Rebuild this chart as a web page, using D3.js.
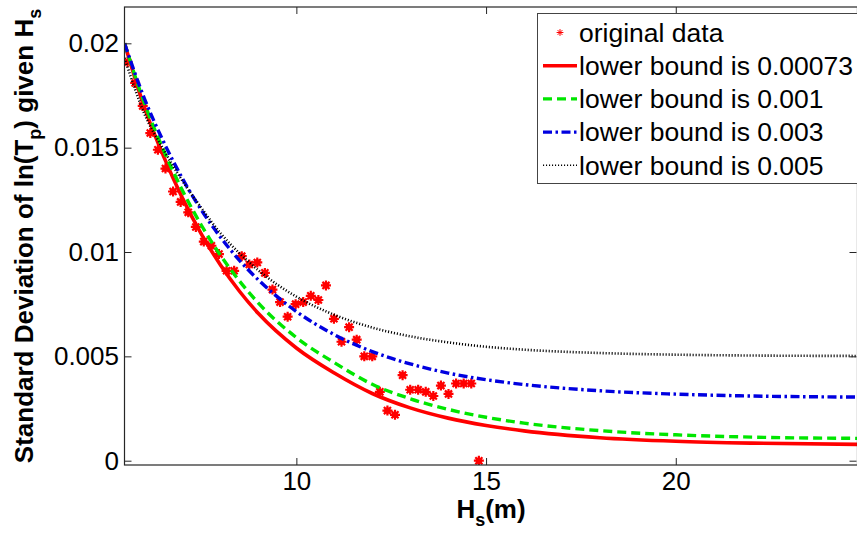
<!DOCTYPE html>
<html><head><meta charset="utf-8">
<script src="https://cdn.jsdelivr.net/npm/d3@7"></script>
<style>
body{margin:0;background:#fff}
svg{display:block}
text{font-family:"Liberation Sans",Arial,Helvetica,sans-serif;fill:#000}
</style>
</head><body>
<svg id="chart" width="857" height="533"></svg>
<script>
// ---- data ----
const obsHs = [5.55,5.75,5.95,6.15,6.35,6.55,6.75,6.95,7.15,7.35,
  7.56,7.76,7.96,8.16,8.36,8.56,8.76,8.97,9.17,9.37,
  9.57,9.77,9.98,10.18,10.38,10.58,10.78,10.99,11.19,11.39,
  11.59,11.79,12.00,12.20,12.40,12.60,12.80,13.00,13.21,13.41,
  13.61,13.81,14.01,14.21,14.41,14.61,14.81];
const obsSd = [0.0191,0.0181,0.0170,0.0157,0.0149,0.0140,0.0129,0.0124,0.0119,0.0112,
  0.0105,0.0103,0.0099,0.0091,0.0091,0.0098,0.0094,0.0095,0.0090,0.0082,
  0.0076,0.0069,0.0075,0.0076,0.0079,0.0077,0.0084,0.0068,0.0057,0.0064,
  0.0058,0.0050,0.0050,0.0033,0.0024,0.0022,0.0041,0.0034,0.0034,0.0033,
  0.0031,0.0036,0.0032,0.0037,0.0037,0.0037,0.0000];

const fitHs = [5.47,6,6.5,7,7.5,8,8.5,9,10,11,12,13,14,15,16,18,20,22,24.8];
const fitLb00073 = [0.0200,0.0169,0.01458,0.01257,0.01085,0.00938,0.00812,0.00705,0.00540,0.0042,0.00322,0.00253,0.00204,0.00169,0.00143,0.0011,0.00093,0.00084,0.00078];
const fitLb001   = [0.0200,0.01711,0.01487,0.01294,0.01127,0.00984,0.00861,0.00755,0.00590,0.0047,0.00366,0.00297,0.00246,0.00208,0.0018,0.00144,0.00124,0.00113,0.00107];
const fitLb003   = [0.0200,0.01733,0.01528,0.01351,0.0120,0.01071,0.0096,0.00866,0.00715,0.00604,0.00523,0.00464,0.0042,0.00388,0.00365,0.00335,0.00319,0.0031,0.00305];
const fitLb005   = [0.0193,0.0166,0.0149,0.0134,0.0121,0.0109,0.00994,0.00912,0.00786,0.00699,0.00638,0.00596,0.00567,0.00546,0.00532,0.00516,0.00508,0.00504,0.00502];

const seriesNames = ["lower bound is 0.00073","lower bound is 0.001","lower bound is 0.003","lower bound is 0.005"];
const obsName = "original data";
const xTicks = [10,15,20];
const xTickLabels = ["10","15","20"];
const yTicks = [0,0.005,0.01,0.015,0.02];
const yTickLabels = ["0","0.005","0.01","0.015","0.02"];

// ---- styles ----
const styles = [
  {color:"#ff0000", width:3.6, dash:null},
  {color:"#00e600", width:3.4, dash:"9,5"},
  {color:"#0000e0", width:3.4, dash:"9,3.5,2.5,3.5"},
  {color:"#000000", width:2.6, dash:"1.1,1.9"}
];
const fits = [fitLb00073, fitLb001, fitLb003, fitLb005];

const svg = d3.select("#chart");
const L=124.5, R=857.5, T=7, B=465;
const x = d3.scaleLinear().domain([5.47,24.79]).range([L,R]);
const y = d3.scaleLinear().domain([-0.000206,0.02174]).range([B,T]);

svg.append("defs").append("clipPath").attr("id","clip")
  .append("rect").attr("x",L).attr("y",T).attr("width",R-L).attr("height",B-T);

const plot = svg.append("g").attr("clip-path","url(#clip)");

const line = d3.line().x(d=>x(d[0])).y(d=>y(d[1])).curve(d3.curveMonotoneX);

function star(g, cx, cy, r, w, fill){
  const a = r*0.7071;
  g.append("path")
   .attr("d",`M${cx-r},${cy}L${cx+r},${cy}M${cx},${cy-r}L${cx},${cy+r}M${cx-a},${cy-a}L${cx+a},${cy+a}M${cx-a},${cy+a}L${cx+a},${cy-a}`)
   .attr("stroke","#ff0000").attr("stroke-width",w).attr("fill","none");
  if(fill) g.append("circle").attr("cx",cx).attr("cy",cy).attr("r",fill).attr("fill","#ff0000");
}
const mk = plot.append("g");
obsHs.forEach((h,i)=>star(mk, x(h), y(obsSd[i]), 5, 2.2, 3.2));

fits.forEach((f,k)=>{
  const pts = fitHs.map((h,i)=>[h,f[i]]);
  plot.append("path").datum(pts).attr("d",line)
    .attr("fill","none").attr("stroke",styles[k].color)
    .attr("stroke-width",styles[k].width)
    .attr("stroke-dasharray",styles[k].dash);
});

// axes
const axCol = "#262626";
function styleAxis(g){
  g.select(".domain").remove();
  g.selectAll(".tick line").attr("stroke",axCol).attr("stroke-width",1);
  g.selectAll("text").attr("font-size",26).attr("font-family",'"Liberation Sans",Arial,sans-serif').attr("fill","#000");
}
svg.append("g").attr("transform",`translate(0,${B})`)
  .call(d3.axisBottom(x).tickValues(xTicks).tickFormat((d,i)=>xTickLabels[i]).tickSize(-7).tickPadding(7))
  .call(styleAxis);
svg.append("g").attr("transform",`translate(0,${T})`)
  .call(d3.axisTop(x).tickValues(xTicks).tickFormat("").tickSize(-7))
  .call(styleAxis);
svg.append("g").attr("transform",`translate(${L},0)`)
  .call(d3.axisLeft(y).tickValues(yTicks).tickFormat((d,i)=>yTickLabels[i]).tickSize(-7).tickPadding(5.5))
  .call(styleAxis);
svg.append("g").attr("transform",`translate(${R-1},0)`)
  .call(d3.axisRight(y).tickValues(yTicks).tickFormat("").tickSize(-7))
  .call(styleAxis);
svg.append("rect").attr("x",L).attr("y",T).attr("width",R-L).attr("height",B-T)
  .attr("fill","none").attr("stroke",axCol).attr("stroke-width",1.2);

// axis labels
const xl = svg.append("text").attr("x",(L+R)/2).attr("y",518)
  .attr("text-anchor","middle").attr("font-size",26).attr("font-weight","bold");
xl.append("tspan").text("H");
xl.append("tspan").attr("font-size",18).attr("dy",8).text("s");
xl.append("tspan").attr("dy",-8).text("(m)");

const yl = svg.append("text").attr("transform",`translate(33,${(T+B)/2}) rotate(-90)`)
  .attr("text-anchor","middle").attr("font-size",26).attr("font-weight","bold");
yl.append("tspan").text("Standard Deviation of ln(T");
yl.append("tspan").attr("font-size",18).attr("dy",8).text("p");
yl.append("tspan").attr("dy",-8).text(") given H");
yl.append("tspan").attr("font-size",18).attr("dy",8).text("s");

// legend
const lg = svg.append("g");
lg.append("rect").attr("x",537.5).attr("y",13.5).attr("width",330).attr("height",170)
  .attr("fill","#fff").attr("stroke","#444").attr("stroke-width",1);
const rowY = i => 32.5 + 33.2*i;
star(lg, 560, rowY(0), 3.4, 1, 0);
lg.append("text").attr("x",579).attr("y",rowY(0)+9.3).attr("font-size",26.5).text(obsName);
seriesNames.forEach((n,k)=>{
  lg.append("line").attr("x1",543).attr("x2",577).attr("y1",rowY(k+1)).attr("y2",rowY(k+1))
    .attr("stroke",styles[k].color).attr("stroke-width",k===3?1.5:styles[k].width)
    .attr("stroke-dasharray",styles[k].dash);
  lg.append("text").attr("x",579).attr("y",rowY(k+1)+9.3).attr("font-size",26.5).text(n);
});
</script>
</body></html>
